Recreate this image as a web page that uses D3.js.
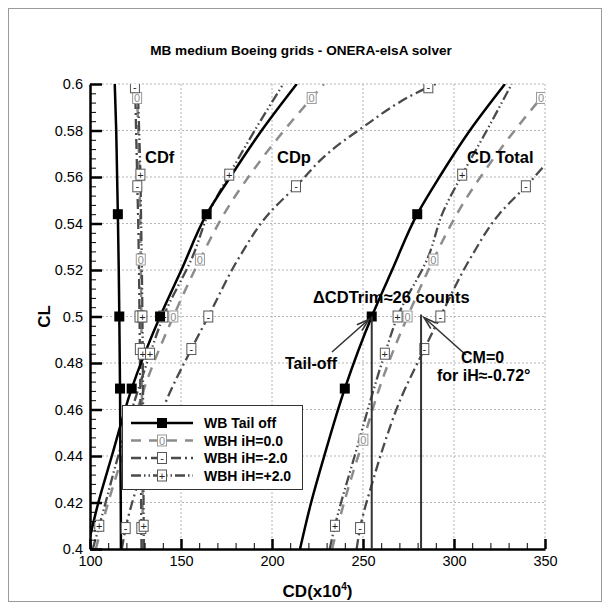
<!DOCTYPE html>
<html>
<head>
<meta charset="utf-8">
<script src="https://cdn.jsdelivr.net/npm/d3@7"></script>
<style>
  body { margin: 0; background: #fff; }
  svg { font-family: "Liberation Sans", Arial, Helvetica, sans-serif; }
</style>
</head>
<body>
<svg id="vis" width="610" height="610"></svg>
<script>
// ---- data (CD in counts x1e4) ----
// WB tail off
var clWB  = [0.40, 0.42, 0.44, 0.469, 0.50, 0.52, 0.544, 0.56, 0.58, 0.60];
var cdfWB = [117.0, 116.9, 116.7, 116.5, 116.1, 115.8, 115.3, 114.9, 114.4, 113.6];
var cdpWB = [98.5, 104.6, 112.0, 122.9, 138.5, 150.2, 164.1, 177.1, 194.3, 213.6];
var cdtWB = [215.4, 221.5, 228.7, 240.0, 254.8, 266.0, 279.8, 292.0, 308.7, 328.0];
var mkWB  = [0, 0, 0, 1, 1, 0, 1, 0, 0, 0];

// WBH iH=0.0
var cl0  = [0.40, 0.42, 0.447, 0.475, 0.50, 0.5245, 0.546, 0.569, 0.594, 0.60];
var cdf0 = [129.0, 128.9, 128.7, 128.5, 128.2, 127.9, 127.5, 126.9, 125.9, 125.6];
var cdp0 = [103.2, 110.0, 120.8, 132.5, 145.8, 160.4, 175.1, 195.5, 221.8, 228.5];
var cdt0 = [233.0, 239.6, 250.2, 261.6, 274.5, 288.7, 303.0, 322.7, 347.8, 354.2];
var mk0  = [0, 0, 1, 0, 1, 1, 0, 0, 1, 0];

// WBH iH=-2.0
var clM  = [0.40, 0.409, 0.43, 0.444, 0.464, 0.486, 0.50, 0.526, 0.544, 0.556, 0.571, 0.580, 0.5986, 0.60];
var cdfM = [128.3, 128.2, 128.0, 127.9, 127.7, 127.4, 127.2, 126.8, 126.4, 126.0, 125.6, 125.3, 124.7, 124.6];
var cdpM = [117.5, 119.6, 127.0, 132.6, 142.0, 155.7, 165.0, 182.4, 198.0, 213.2, 231.9, 247.4, 285.9, 290.0];
var cdtM = [246.5, 248.4, 255.7, 261.2, 270.4, 283.7, 292.5, 309.7, 324.8, 339.5, 357.8, 372.9, 410.6, 414.6];
var mkM  = [0, 1, 0, 0, 0, 1, 1, 0, 0, 1, 0, 0, 1, 0];

// WBH iH=+2.0
var clP  = [0.40, 0.41, 0.44, 0.484, 0.50, 0.526, 0.545, 0.561, 0.58, 0.60];
var cdfP = [129.6, 129.5, 129.3, 129.0, 128.8, 128.4, 128.0, 127.7, 127.0, 126.2];
var cdpP = [101.5, 105.1, 115.5, 133.0, 140.3, 156.5, 165.5, 176.5, 190.5, 206.2];
var cdtP = [231.7, 234.6, 245.4, 262.0, 269.0, 286.0, 294.0, 304.5, 318.0, 331.7];
var mkP  = [0, 1, 0, 1, 1, 0, 0, 1, 0, 0];

// trim annotation
var clTrim = 0.50;
var cdTailOff = 254.8;
var cdTrimmed = 281.9;

// axes
var xTicks = [100, 150, 200, 250, 300, 350];
var yTicks = [0.4, 0.42, 0.44, 0.46, 0.48, 0.5, 0.52, 0.54, 0.56, 0.58, 0.6];

var legendNames = ["WB Tail off", "WBH iH=0.0", "WBH iH=-2.0", "WBH iH=+2.0"];

// ---- layout ----
var pLeft = 90, pRight = 545, pTop = 84, pBottom = 549;
var x = d3.scaleLinear().domain([100, 350]).range([pLeft, pRight]);
var y = d3.scaleLinear().domain([0.4, 0.6]).range([pBottom, pTop]);

var svg = d3.select("#vis");

// outer frame
svg.append("rect")
    .attr("x", 8.5).attr("y", 8.5)
    .attr("width", 593).attr("height", 593)
    .attr("fill", "none")
    .attr("stroke", "#9a9a9a")
    .attr("stroke-width", 1);

// title
svg.append("text")
    .attr("x", 301).attr("y", 55)
    .attr("text-anchor", "middle")
    .style("font-size", "13.6px")
    .style("font-weight", "bold")
    .text("MB medium Boeing grids - ONERA-elsA solver");

svg.append("clipPath").attr("id", "plot-clip")
    .append("rect")
    .attr("x", pLeft).attr("y", pTop)
    .attr("width", pRight - pLeft).attr("height", pBottom - pTop);

// grid
var grid = svg.append("g").attr("stroke", "#b4b4b4").attr("stroke-width", 1).attr("stroke-dasharray", "2,2");
grid.selectAll(".gx").data(xTicks.slice(1)).enter().append("line")
    .attr("x1", function (d) { return x(d); }).attr("x2", function (d) { return x(d); })
    .attr("y1", pTop).attr("y2", pBottom);
grid.selectAll(".gy").data(yTicks.slice(1)).enter().append("line")
    .attr("y1", function (d) { return y(d); }).attr("y2", function (d) { return y(d); })
    .attr("x1", pLeft).attr("x2", pRight);

// series
var series = [
    {name: legendNames[1], cl: cl0, f: cdf0, p: cdp0, t: cdt0, mk: mk0, color: "#8c8c8c", dash: "10,8", width: 2.5, sym: "0", symColor: "#9a9a9a"},
    {name: legendNames[2], cl: clM, f: cdfM, p: cdpM, t: cdtM, mk: mkM, color: "#4a4a4a", dash: "10,4,2,4", width: 2.3, sym: "-", symColor: "#555"},
    {name: legendNames[3], cl: clP, f: cdfP, p: cdpP, t: cdtP, mk: mkP, color: "#4a4a4a", dash: "10,3,1.5,3,1.5,3", width: 2.3, sym: "+", symColor: "#555"},
    {name: legendNames[0], cl: clWB, f: cdfWB, p: cdpWB, t: cdtWB, mk: mkWB, color: "#000", dash: null, width: 2.5, sym: "sq", symColor: "#000"}
];

var line = d3.line()
    .x(function (d) { return x(d[0]); })
    .y(function (d) { return y(d[1]); })
    .curve(d3.curveMonotoneY);

var plot = svg.append("g").attr("clip-path", "url(#plot-clip)");

series.forEach(function (s) {
    ["f", "p", "t"].forEach(function (k) {
        var pts = s.cl.map(function (c, i) { return [s[k][i], c]; });
        plot.append("path")
            .datum(pts)
            .attr("fill", "none")
            .attr("stroke", s.color)
            .attr("stroke-width", s.width)
            .attr("stroke-dasharray", s.dash)
            .attr("d", line);
    });
});

// symbols
function drawSymbol(g, s, cx, cy) {
    if (s.sym === "sq") {
        g.append("rect")
            .attr("x", cx - 5).attr("y", cy - 5)
            .attr("width", 10).attr("height", 10)
            .attr("fill", "#000");
    } else {
        g.append("rect")
            .attr("x", cx - 4.5).attr("y", cy - 5.5)
            .attr("width", 9).attr("height", 11)
            .attr("fill", "#fff")
            .attr("stroke", s.symColor)
            .attr("stroke-width", 1);
        g.append("text")
            .attr("x", cx).attr("y", cy + 4)
            .attr("text-anchor", "middle")
            .style("font-size", "11px")
            .attr("fill", s.sym === "0" ? "#8c8c8c" : "#222")
            .text(s.sym);
    }
}

var syms = svg.append("g").attr("clip-path", "url(#plot-clip)");
series.forEach(function (s) {
    s.cl.forEach(function (c, i) {
        if (!s.mk[i]) return;
        ["f", "p", "t"].forEach(function (k) {
            // symbols past the right edge are not drawn
            if (s[k][i] > 350) return;
            drawSymbol(syms, s, x(s[k][i]), y(c));
        });
    });
});

// axes
var xAxis = svg.append("g")
    .attr("transform", "translate(0," + pBottom + ")")
    .call(d3.axisBottom(x).tickValues(xTicks).tickSize(-10).tickSizeOuter(0).tickPadding(7));
var xMinor = svg.append("g")
    .attr("transform", "translate(0," + pBottom + ")")
    .call(d3.axisBottom(x).tickValues(d3.range(110, 350, 10)).tickSize(-6).tickFormat(""));
var yAxis = svg.append("g")
    .attr("transform", "translate(" + pLeft + ",0)")
    .call(d3.axisLeft(y).tickValues(yTicks).tickSize(-12).tickSizeOuter(0).tickPadding(7)
        .tickFormat(function (d) { return String(+d.toFixed(2)); }));
var yMinor = svg.append("g")
    .attr("transform", "translate(" + pLeft + ",0)")
    .call(d3.axisLeft(y).tickValues(d3.range(0.404, 0.6, 0.004)).tickSize(-6).tickFormat(""));

[xAxis, yAxis].forEach(function (a) {
    a.select(".domain").attr("stroke", "#000").attr("stroke-width", 2.5);
    a.selectAll(".tick line").attr("stroke", "#000").attr("stroke-width", 2.5);
    a.selectAll(".tick text").style("font-size", "14.5px").attr("fill", "#000")
        .style("font-family", "'Liberation Sans', Arial, sans-serif");
});
[xMinor, yMinor].forEach(function (a) {
    a.select(".domain").remove();
    a.selectAll(".tick line").attr("stroke", "#000").attr("stroke-width", 1);
});

// axis titles
svg.append("text")
    .attr("transform", "translate(50," + ((pTop + pBottom) / 2) + ") rotate(-90)")
    .attr("text-anchor", "middle")
    .style("font-size", "17px").style("font-weight", "bold")
    .text("CL");

var xt = svg.append("text")
    .attr("x", (pLeft + pRight) / 2).attr("y", 597)
    .attr("text-anchor", "middle")
    .style("font-size", "17px").style("font-weight", "bold");
xt.append("tspan").text("CD(x10");
xt.append("tspan").attr("dy", -7).style("font-size", "10px").text("4");
xt.append("tspan").attr("dy", 7).text(")");

// component labels
var labels = svg.append("g").style("font-size", "16.5px").style("font-weight", "bold");
labels.append("text").attr("x", 145).attr("y", 163).text("CDf");
labels.append("text").attr("x", 277).attr("y", 163).text("CDp");
labels.append("text").attr("x", 467).attr("y", 163).text("CD Total");

// trim annotation
var ann = svg.append("g");
ann.append("line")
    .attr("x1", x(cdTailOff)).attr("x2", x(cdTailOff))
    .attr("y1", y(clTrim)).attr("y2", pBottom)
    .attr("stroke", "#333").attr("stroke-width", 2);
ann.append("line")
    .attr("x1", x(cdTrimmed)).attr("x2", x(cdTrimmed))
    .attr("y1", y(clTrim) - 2).attr("y2", pBottom)
    .attr("stroke", "#333").attr("stroke-width", 2);

function arrow(g, x1, y1, x2, y2) {
    var a = Math.atan2(y2 - y1, x2 - x1), len = 13, spread = 0.3;
    g.append("line").attr("x1", x1).attr("y1", y1).attr("x2", x2).attr("y2", y2)
        .attr("stroke", "#333").attr("stroke-width", 1.6);
    g.append("path")
        .attr("d", "M" + (x2 - len * Math.cos(a - spread)) + "," + (y2 - len * Math.sin(a - spread)) +
            "L" + x2 + "," + y2 +
            "L" + (x2 - len * Math.cos(a + spread)) + "," + (y2 - len * Math.sin(a + spread)))
        .attr("fill", "none").attr("stroke", "#333").attr("stroke-width", 1.6);
}
arrow(ann, 332, 352, x(cdTailOff) - 3, y(clTrim) + 3);
arrow(ann, 466, 355, x(cdTrimmed) + 3, y(clTrim) + 1);

var annFont = "16.5px";
ann.append("text")
    .attr("x", 313).attr("y", 303)
    .style("font-size", annFont).style("font-weight", "bold")
    .text("\u0394CDTrim\u224826 counts");
ann.append("text")
    .attr("x", 285).attr("y", 369)
    .style("font-size", "16px").style("font-weight", "bold")
    .text("Tail-off");
ann.append("text")
    .attr("x", 461).attr("y", 363)
    .style("font-size", "16px").style("font-weight", "bold")
    .text("CM=0");
ann.append("text")
    .attr("x", 437).attr("y", 381)
    .style("font-size", "16px").style("font-weight", "bold")
    .text("for iH\u2248-0.72\u00b0");

// legend
var lg = svg.append("g");
lg.append("rect")
    .attr("x", 122.5).attr("y", 405.5)
    .attr("width", 180).attr("height", 84)
    .attr("fill", "#fff").attr("stroke", "#333").attr("stroke-width", 1);
var legendOrder = [series[3], series[0], series[1], series[2]];
legendOrder.forEach(function (s, i) {
    var ly = 423 + i * 17.5;
    lg.append("line")
        .attr("x1", 131).attr("x2", 193)
        .attr("y1", ly).attr("y2", ly)
        .attr("stroke", s.color)
        .attr("stroke-width", s.width)
        .attr("stroke-dasharray", s.dash);
    drawSymbol(lg, s, 162, ly);
    lg.append("text")
        .attr("x", 204).attr("y", ly + 5)
        .style("font-size", "14px").style("font-weight", "bold")
        .text(s.name);
});
</script>
</body>
</html>
